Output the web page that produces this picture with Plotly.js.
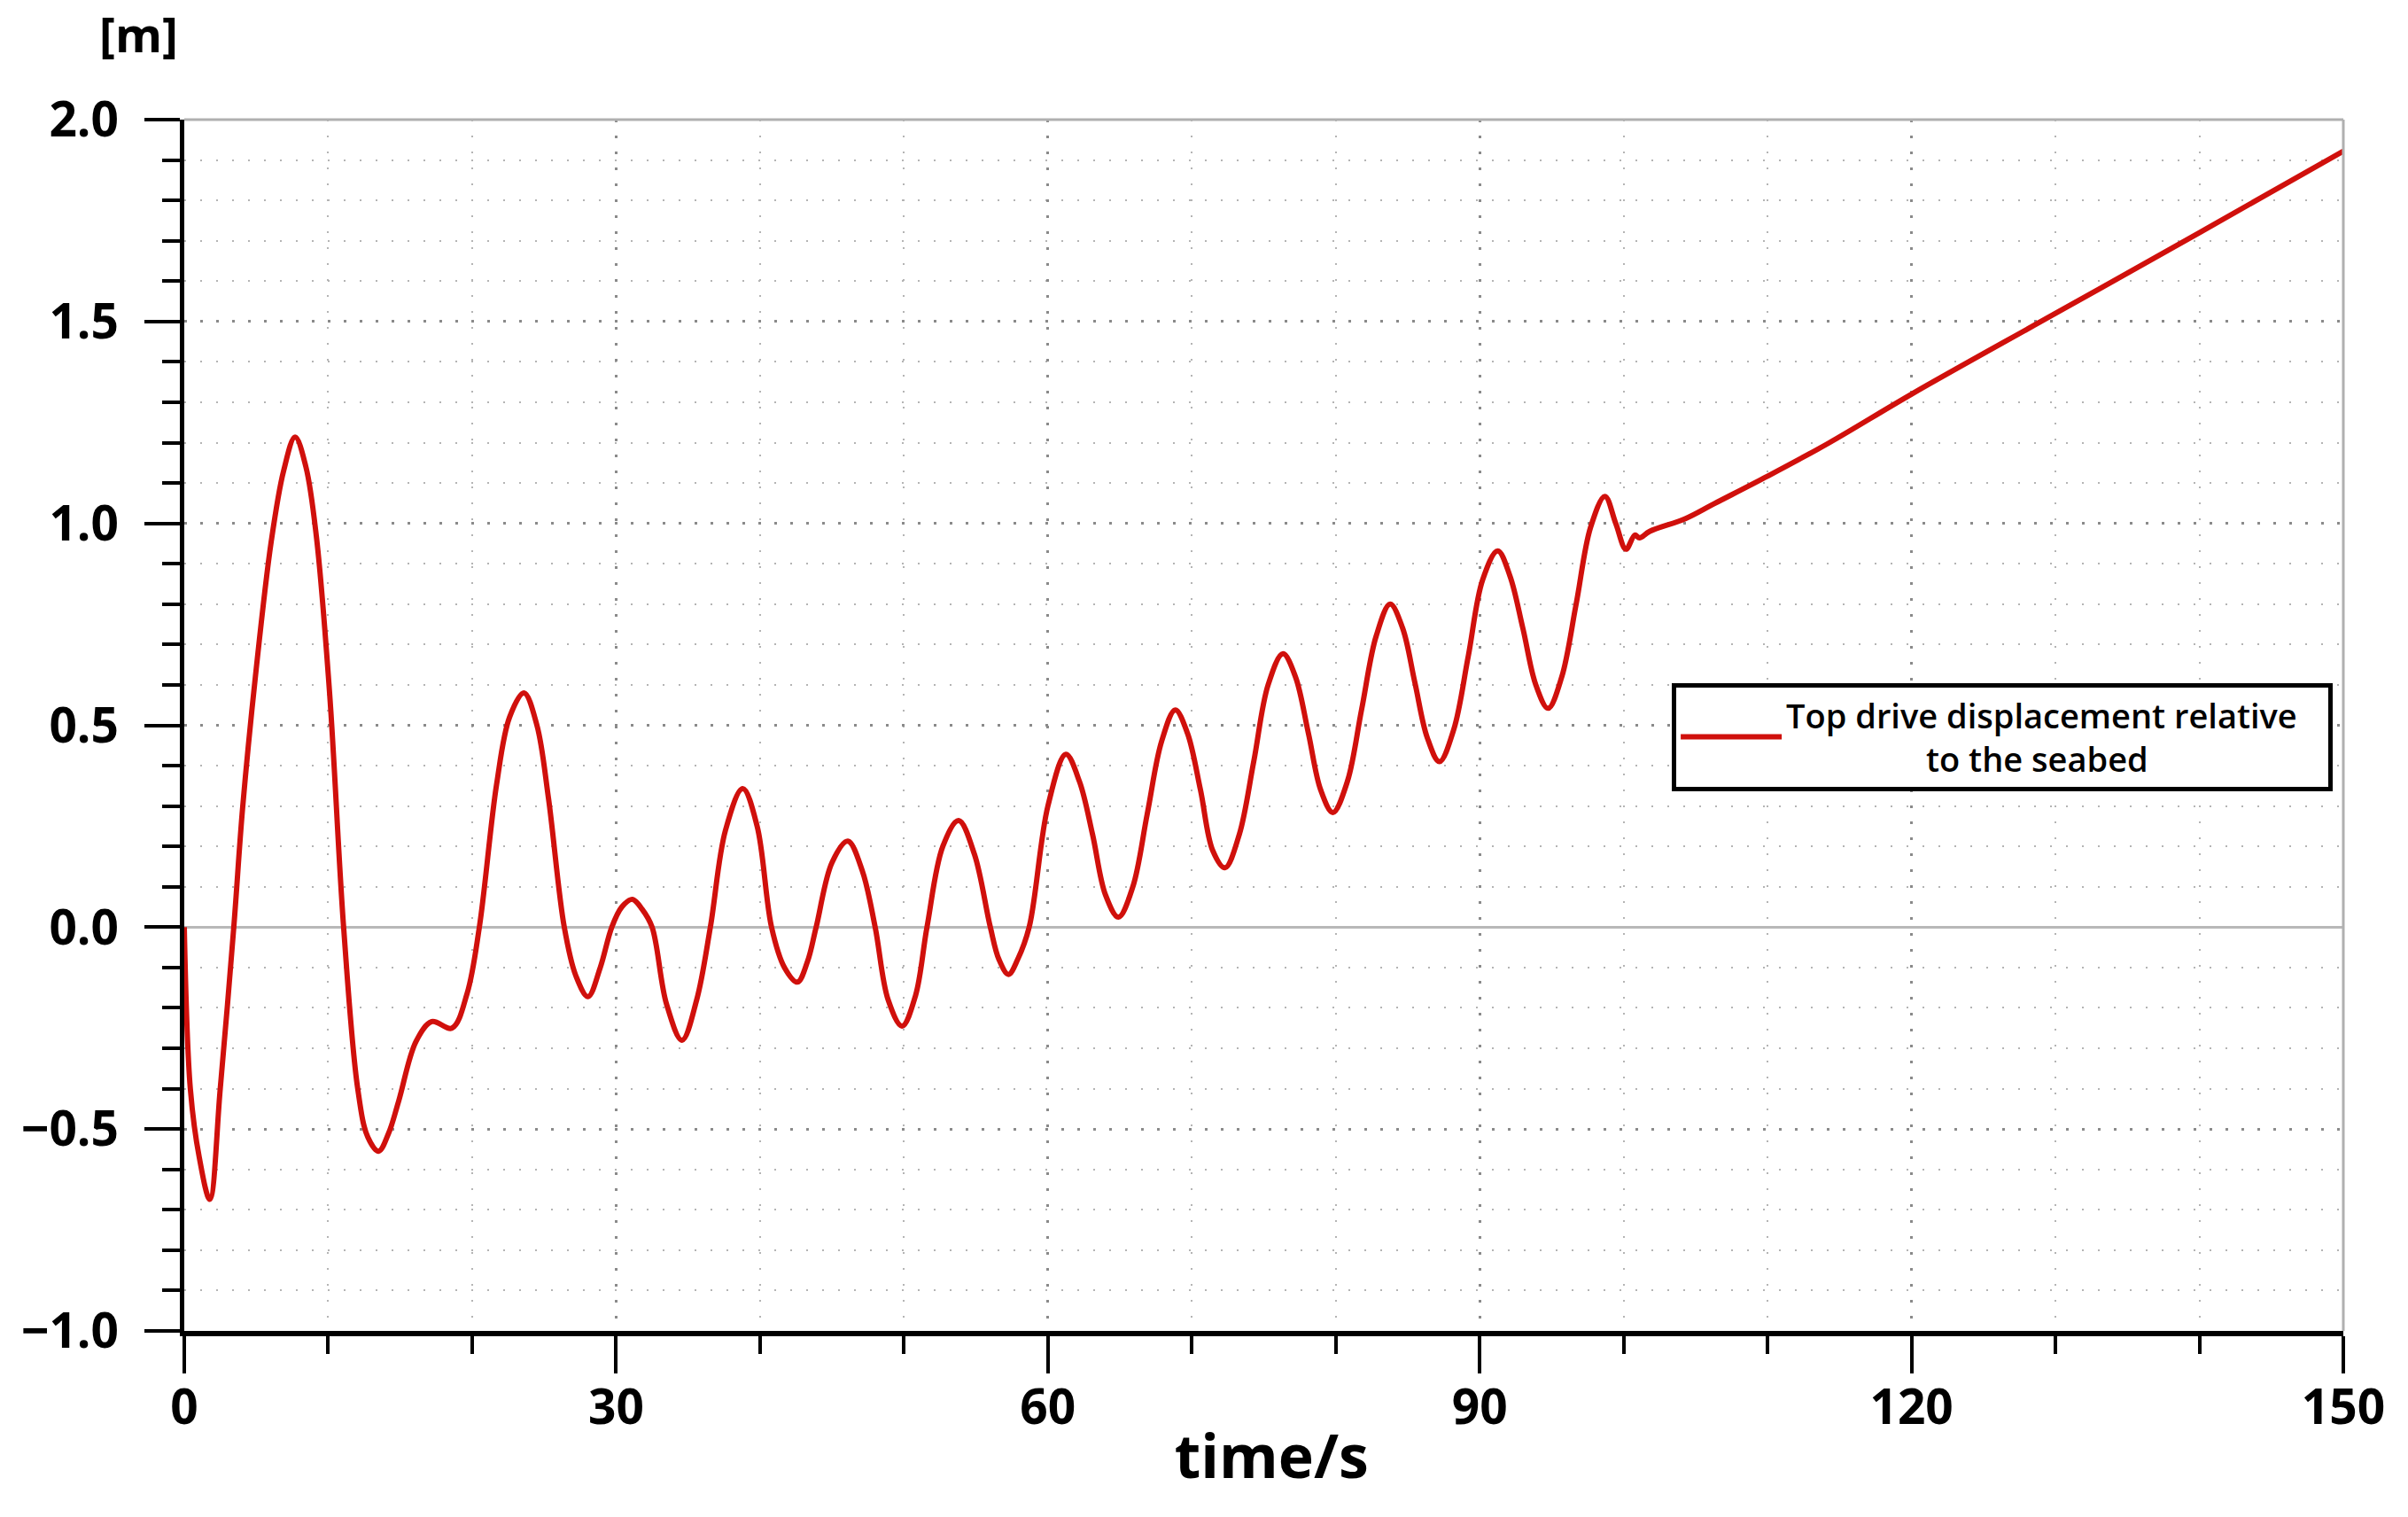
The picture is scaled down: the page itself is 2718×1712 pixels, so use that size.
<!DOCTYPE html>
<html>
<head>
<meta charset="utf-8">
<script src="https://cdn.plot.ly/plotly-3.0.1.min.js"></script>
<style>html,body{margin:0;padding:0;background:#fff}</style>
</head>
<body>
<div id="chart" style="width:2718px;height:1712px"></div>
<script>
// Time (s) and top drive displacement relative to the seabed (m)
var timeS = [0, 0.42, 1.04, 1.77, 2.5, 3.44, 4.06, 5.0, 6.04, 6.9,
	7.7, 8.45, 9.17, 10.1, 11.07, 12.05, 12.75, 13.5, 14.2, 14.9,
	16.1, 17.2, 18.6, 19.65, 20.5, 21.7, 22.6, 23.6, 24.5, 25.3,
	26.4, 27.2, 28.05, 28.9, 29.7, 30.4, 31.13, 31.8, 32.5, 33.5,
	34.58, 35.6, 36.55, 37.6, 38.8, 39.8, 40.8, 41.7, 42.6, 43.3,
	43.9, 45.0, 46.1, 47.1, 48.0, 48.9, 49.87, 50.8, 51.6, 52.7,
	53.8, 54.9, 56.0, 56.6, 57.26, 57.9, 58.7, 60.0, 61.25, 62.2,
	63.1, 64.0, 64.9, 65.9, 66.9, 67.9, 68.85, 69.7, 70.6, 71.45,
	72.3, 73.3, 74.3, 75.3, 76.33, 77.2, 78.1, 78.95, 79.8, 80.8,
	81.8, 82.8, 83.78, 84.65, 85.5, 86.35, 87.2, 88.2, 89.2, 90.2,
	91.25, 92.1, 93.0, 93.9, 94.75, 95.7, 96.7, 97.7, 98.7, 99.45,
	100.16, 100.78, 101.1, 101.8, 104.3, 106.3, 110, 114.25, 120, 130,
	140, 150];
var dispM = [0, -0.40, -0.57, -0.674, -0.40, 0, 0.298, 0.64, 0.955, 1.13,
	1.214, 1.14, 0.97, 0.578, 0, -0.40, -0.52, -0.555, -0.51, -0.43,
	-0.283, -0.234, -0.25, -0.164, 0, 0.354, 0.52, 0.58, 0.50, 0.32,
	0, -0.12, -0.172, -0.10, 0, 0.05, 0.069, 0.045, 0, -0.19,
	-0.28, -0.18, 0, 0.24, 0.343, 0.25, 0, -0.10, -0.136, -0.085,
	0, 0.16, 0.213, 0.14, 0, -0.18, -0.245, -0.17, 0, 0.20,
	0.264, 0.18, 0, -0.08, -0.117, -0.08, 0, 0.30, 0.428, 0.36,
	0.23, 0.08, 0.025, 0.10, 0.28, 0.46, 0.538, 0.48, 0.34, 0.19,
	0.147, 0.23, 0.41, 0.60, 0.677, 0.62, 0.48, 0.34, 0.284, 0.36,
	0.54, 0.72, 0.80, 0.74, 0.605, 0.47, 0.41, 0.49, 0.67, 0.86,
	0.932, 0.87, 0.74, 0.60, 0.542, 0.62, 0.80, 0.99, 1.067, 1.0,
	0.936, 0.971, 0.964, 0.98, 1.012, 1.049, 1.117, 1.199, 1.32, 1.52,
	1.72, 1.922];

var seriesName = 'Top drive displacement relative&nbsp;&nbsp;&nbsp;<br>' +
	'&nbsp;'.repeat(16) + 'to the seabed';
var xTitle = '&nbsp;time/s';
var yUnit = '[m]';

var font = 'Open Sans, sans-serif';

var trace = [{
	type: 'scatter',
	mode: 'lines',
	name: seriesName,
	x: timeS,
	y: dispM,
	line: {color: '#d0100c', width: 6, shape: 'spline', smoothing: 1}
}];

var layout = {
	width: 2718,
	height: 1712,
	margin: {l: 208, r: 73, t: 135, b: 210},
	paper_bgcolor: '#fff',
	plot_bgcolor: '#fff',
	showlegend: true,
	font: {family: font, color: '#000'},
	xaxis: {
		range: [0, 150],
		dtick: 30,
		tick0: 0,
		showline: true, linecolor: '#000', linewidth: 6,
		ticks: 'outside', ticklen: 42, tickwidth: 4, tickcolor: '#000',
		ticklabelstandoff: -9,
		tickfont: {family: font, size: 55, weight: 'bold'},
		showgrid: true, gridcolor: '#8a8a8a', gridwidth: 3, griddash: '3px,15px',
		zeroline: false,
		minor: {dtick: 10, ticks: 'outside', ticklen: 20, tickwidth: 4, tickcolor: '#000',
			showgrid: true, gridcolor: '#b4b4b4', gridwidth: 2, griddash: '2px,16px'},
		title: {text: xTitle, standoff: 0, font: {family: font, size: 68, weight: 'bold'}}
	},
	yaxis: {
		range: [-1, 2],
		dtick: 0.5,
		tick0: 0,
		tickformat: '.1f',
		showline: true, linecolor: '#000', linewidth: 5,
		ticks: 'outside', ticklen: 40, tickwidth: 4, tickcolor: '#000',
		ticklabelstandoff: 18,
		tickfont: {family: font, size: 55, weight: 'bold'},
		showgrid: true, gridcolor: '#8a8a8a', gridwidth: 3, griddash: '3px,15px',
		zeroline: true, zerolinecolor: '#b8b8b8', zerolinewidth: 3,
		minor: {dtick: 0.1, ticks: 'outside', ticklen: 20, tickwidth: 4, tickcolor: '#000',
			showgrid: true, gridcolor: '#b4b4b4', gridwidth: 2, griddash: '2px,16px'}
	},
	legend: {
		x: 0.689, y: 0.535, xanchor: 'left', yanchor: 'top',
		bgcolor: '#fff', bordercolor: '#000', borderwidth: 5,
		itemwidth: 114,
		font: {family: font, size: 38, weight: 600, color: '#000'}
	},
	shapes: [
		{type: 'line', xref: 'paper', yref: 'paper', x0: 0, x1: 1, y0: 1, y1: 1,
			line: {color: '#b0b0b0', width: 3}},
		{type: 'line', xref: 'paper', yref: 'paper', x0: 1, x1: 1, y0: 0, y1: 1,
			line: {color: '#b0b0b0', width: 3}}
	],
	annotations: [{
		text: yUnit, xref: 'paper', yref: 'paper', x: -0.021, y: 1.071,
		xanchor: 'center', yanchor: 'middle', showarrow: false,
		font: {family: font, size: 54, weight: 'bold'}
	}]
};

Plotly.newPlot('chart', trace, layout, {displayModeBar: false, staticPlot: true});
</script>
</body>
</html>
